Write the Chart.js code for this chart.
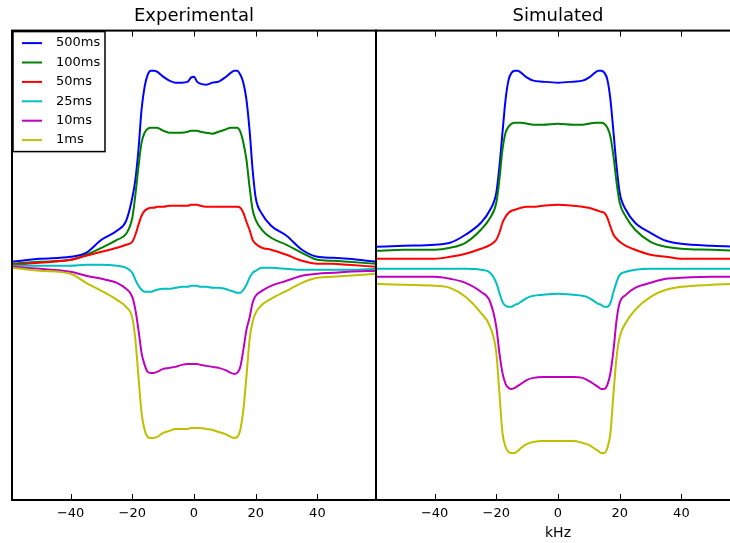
<!DOCTYPE html>
<html>
<head>
<meta charset="utf-8">
<script src="https://cdn.jsdelivr.net/npm/chart.js@4.4.1/dist/chart.umd.min.js"></script>
<style>
html, body { margin: 0; padding: 0; width: 730px; height: 543px; overflow: hidden; background: #fff; }
.panel { position: absolute; top: 0; height: 543px; }
#left { left: 0; width: 378px; }
#right { left: 375px; width: 370px; }
</style>
</head>
<body>
<div class="panel" id="left"><canvas id="exp"></canvas></div>
<div class="panel" id="right"><canvas id="sim"></canvas></div>
<script>
// mixing times and their colours (matplotlib classic b g r c m y)
const labels = ['500ms', '100ms', '50ms', '25ms', '10ms', '1ms'];
const colors = ['#0000ff', '#008000', '#ff0000', '#00bfbf', '#bf00bf', '#bfbf00'];
const tickValues = [-40, -20, 0, 20, 40];

// experimental spectra (arbitrary intensity units)
const expKHz = [-59,-50,-40,-35,-30,-25,-22,-20,-19,-18,-17,-16,-15,-14,-13,-12,-10,-8,-6,-4,-2,-1,0,1,2,4,6,8,10,12,13,14,15,16,17,18,19,20,22,25,30,35,40,45,50,59];
const exp500 = [3,6,8,12,25,34,44,67,85,115,155,178,190,194,194,193,188,184,182,182,183,187,188,183,181,180,182,183,187,192,194,194,190,182,165,135,95,67,51,39,29,15,8,7,6,3];
const exp100 = [1,3,5,10,17,25,31,47,70,98,122,132,136,137,137,137,134,132,132,132,133,134,134,134,133,132,131,133,135,137,137,137,133,122,105,78,55,45,35,27,20,12,5,4,3,1];
const exp50  = [0,2,5,9,13,17,20,23,30,40,49,54,56,57,57,58,58,59,59,59,59,60,60,60,59,58,58,58,58,58,58,58,57,52,43,35,25,21,17,15,10,4,1,1,0,-2];
const exp25  = [-1,-1,-1,0,0,-1,-3,-8,-15,-21,-25,-27,-27,-27,-26,-25,-24,-24,-23,-22,-22,-21,-21,-21,-22,-22,-23,-23,-24,-26,-27,-28,-28,-25,-20,-13,-8,-6,-3,-3,-4,-5,-5,-5,-5,-4];
const exp10  = [-2,-4,-7,-11,-14,-18,-24,-32,-45,-65,-88,-100,-107,-108,-108,-107,-104,-103,-102,-100,-99,-99,-99,-99,-100,-101,-102,-103,-105,-108,-109,-108,-102,-85,-65,-53,-38,-31,-26,-21,-16,-11,-9,-8,-7,-6];
const exp1   = [-3,-6,-9,-18,-26,-35,-42,-53,-75,-112,-148,-165,-172,-173,-173,-172,-168,-166,-164,-164,-164,-163,-163,-163,-163,-164,-165,-167,-169,-172,-173,-172,-165,-145,-112,-75,-57,-48,-40,-34,-26,-18,-13,-12,-11,-9];

// simulated spectra
const simKHz = [-59,-50,-40,-35,-30,-25,-22,-20,-19,-18,-17,-16,-15,-14,-13,-12,-10,-8,-5,0,5,8,10,12,13,14,15,16,17,18,19,20,22,25,30,35,40,50,59];
const sim500 = [18,19,20,22,30,42,55,72,98,132,165,185,192,194,194,192,187,184,183,182,183,184,187,192,194,194,192,185,165,132,98,72,55,42,32,24,21,19,18];
const sim100 = [14,15,15,17,22,35,47,62,85,115,132,138,141,142,142,142,141,140,140,141,140,140,141,142,142,142,141,137,128,108,82,62,48,35,23,18,16,15,14];
const sim50  = [6,6,6,8,11,16,20,25,32,42,48,52,54,55,56,57,58,58,59,60,59,58,57,55,54,53,52,47,38,30,26,23,19,15,10,8,6,6,6];
const sim25  = [-4,-4,-4,-4,-4,-5,-8,-18,-28,-37,-41,-42,-42,-40,-39,-37,-33,-31,-30,-29,-30,-31,-33,-37,-39,-40,-42,-42,-38,-27,-17,-10,-7,-5,-4,-4,-4,-4,-4];
const sim10  = [-12,-12,-12,-14,-18,-27,-37,-62,-88,-108,-119,-123,-124,-123,-121,-119,-115,-113,-112,-112,-112,-113,-116,-120,-122,-124,-124,-120,-108,-85,-55,-38,-30,-23,-18,-14,-13,-12,-12];
const sim1   = [-19,-20,-21,-23,-32,-48,-62,-88,-128,-168,-182,-187,-188,-188,-186,-183,-179,-177,-176,-176,-176,-178,-180,-184,-186,-188,-188,-183,-168,-128,-92,-72,-58,-45,-32,-25,-22,-20,-19];

const expSeries = [exp500, exp100, exp50, exp25, exp10, exp1];
const simSeries = [sim500, sim100, sim50, sim25, sim10, sim1];

function buildDatasets(xs, series) {
    return series.map((vals, i) => ({
        label: labels[i],
        data: xs.map((x, j) => ({x: x, y: vals[j]})),
        borderColor: colors[i],
        borderWidth: 2,
        pointRadius: 0,
        fill: false,
        cubicInterpolationMode: 'monotone',
        order: series.length - i
    }));
}

const minus = v => String(v).replace('-', '\u2212');

const framePlugin = {
    id: 'frame',
    afterDatasetsDraw(chart) {
        const {ctx, chartArea: a, scales: {x}} = chart;
        ctx.save();
        ctx.strokeStyle = '#000';
        ctx.lineWidth = 1;
        ctx.beginPath();
        tickValues.forEach(v => {
            const px = Math.round(x.getPixelForValue(v)) + 0.5;
            ctx.moveTo(px, a.top);
            ctx.lineTo(px, a.top + 6);
            ctx.moveTo(px, a.bottom);
            ctx.lineTo(px, a.bottom - 6);
        });
        ctx.stroke();
        ctx.lineWidth = 2;
        ctx.strokeRect(a.left, a.top, a.right - a.left, a.bottom - a.top);
        ctx.restore();
    }
};

const legendPlugin = {
    id: 'boxLegend',
    afterDraw(chart) {
        const {ctx, chartArea: a} = chart;
        const x0 = a.left + 1, y0 = a.top + 1, w = 92, h = 120;
        ctx.save();
        ctx.fillStyle = '#fff';
        ctx.fillRect(x0, y0, w, h);
        ctx.lineWidth = 1.5;
        ctx.strokeStyle = '#000';
        ctx.strokeRect(x0, y0, w, h);
        ctx.font = '13px "DejaVu Sans"';
        ctx.textBaseline = 'middle';
        chart.data.datasets.forEach((d, i) => {
            const y = y0 + 11.5 + i * 19.4;
            ctx.strokeStyle = d.borderColor;
            ctx.lineWidth = 2;
            ctx.beginPath();
            ctx.moveTo(x0 + 9, y);
            ctx.lineTo(x0 + 29, y);
            ctx.stroke();
            ctx.fillStyle = '#000';
            ctx.fillText(d.label, x0 + 43, y);
        });
        ctx.restore();
    }
};

function chartOptions(title, padLeft, padRight, xTitle) {
    return {
        responsive: true,
        maintainAspectRatio: false,
        animation: false,
        layout: {padding: {left: padLeft, right: padRight, top: 0, bottom: 0}},
        plugins: {
            legend: {display: false},
            tooltip: {enabled: false},
            title: {
                display: true,
                text: title,
                color: '#000',
                font: {family: 'DejaVu Sans', size: 18, weight: 'normal', lineHeight: 1.2},
                padding: {top: 6, bottom: 3}
            }
        },
        scales: {
            x: {
                type: 'linear',
                min: -59,
                max: 59,
                grid: {display: false, drawTicks: false},
                border: {display: false},
                afterBuildTicks: s => { s.ticks = tickValues.map(v => ({value: v})); },
                afterFit: s => { s.height = 43; },
                ticks: {
                    color: '#000',
                    padding: 6,
                    maxRotation: 0,
                    font: {family: 'DejaVu Sans', size: 13},
                    callback: v => minus(v)
                },
                title: {
                    display: xTitle,
                    text: 'kHz',
                    color: '#000',
                    font: {family: 'DejaVu Sans', size: 14},
                    padding: {top: 0, bottom: 1}
                }
            },
            y: {
                display: false,
                min: -235,
                max: 234
            }
        }
    };
}

new Chart(document.getElementById('exp').getContext('2d'), {
    type: 'line',
    data: {datasets: buildDatasets(expKHz, expSeries)},
    options: chartOptions('Experimental', 12, 2, false),
    plugins: [framePlugin, legendPlugin]
});

new Chart(document.getElementById('sim').getContext('2d'), {
    type: 'line',
    data: {datasets: buildDatasets(simKHz, simSeries)},
    options: chartOptions('Simulated', 1, 5, true),
    plugins: [framePlugin]
});
</script>
</body>
</html>
